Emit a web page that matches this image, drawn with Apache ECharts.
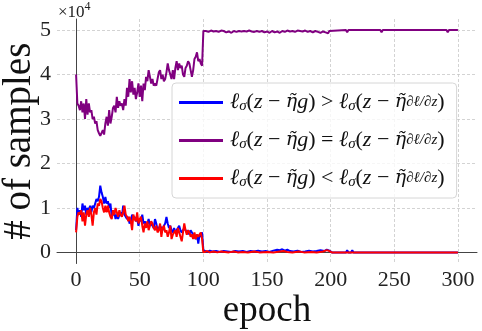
<!DOCTYPE html>
<html>
<head>
<meta charset="utf-8">
<script src="https://cdn.jsdelivr.net/npm/echarts@6/dist/echarts.min.js"></script>
<style>
  html, body { margin: 0; padding: 0; background: #fff; }
  #chart { width: 482px; height: 331px; }
</style>
</head>
<body>
<div id="chart"></div>
<script>
// epochs 0..100, one value per epoch
var blueEarly = [
  5000,10000,8500,9500,8000,11000,9500,10500,8500,10000,
  9500,10500,9000,10500,10000,11000,12000,11500,12500,15000,
  13500,12500,11000,12500,11000,11500,10000,11000,8000,8500,
  9000,7500,8500,7500,8500,9000,8000,10500,8500,8000,
  7500,8000,6500,7000,8500,7500,8000,7000,7500,6000,
  7500,7000,8500,6500,7000,6000,6500,7500,6000,6500,
  6000,5500,7500,6500,5000,5500,6000,5500,5000,6000,
  6500,8000,6500,5500,6000,5000,4500,5500,4500,5000,
  5500,6000,5000,4500,5000,5500,5000,4500,5000,4000,
  5000,4500,4000,3500,3000,4000,2000,4000,3500,4500,
  500
];
var purpleEarly = [
  40000,33500,33000,32000,34000,31500,33500,30000,34500,31000,
  33500,31500,32000,30000,30500,29000,29500,27500,26800,26200,
  26000,27500,26500,29000,30500,28500,32000,29000,30500,32500,
  33000,31500,35000,32500,34000,33000,33500,32000,34500,33000,
  37000,35000,39000,36000,38500,35500,37000,34500,36000,38000,
  35000,37500,34000,38000,36500,39500,38500,41000,39500,38000,
  39000,37500,38000,37500,39000,40500,41000,39000,40000,38500,
  39000,40500,42500,41000,40000,39000,41000,39000,41500,43000,
  41000,42500,41500,42000,40000,39500,41500,42000,43000,42500,
  41000,39500,41000,43500,44000,45000,43000,43500,42500,42000,
  49800
];
var redEarly = [
  4500,8000,9000,8500,9500,7000,9000,6000,8500,9500,
  8000,10000,8500,6000,9000,10000,8500,11000,10500,12000,
  11500,10000,9000,10500,9000,10500,9000,8000,7500,9500,
  8500,10000,9000,8000,9500,8500,8000,9000,10500,8500,
  8000,7000,8000,7000,5000,8500,7500,7000,9000,6500,
  7500,8000,6000,4500,6500,5500,7000,5000,6000,7000,
  6500,5500,5000,6000,4500,5000,6500,3500,5500,6000,
  4500,5000,3500,4500,6000,3000,4000,4500,5000,3500,
  5500,4500,3500,2500,4500,6500,5000,4000,5000,4500,
  3500,4000,3000,4500,3000,4000,3500,4000,4500,3000,
  0
];

// after epoch 100: [epoch, value]
var blueLate = [[101,300],[103,100],[105,400],[107,200],[110,300],[113,100],[116,300],[119,200],[122,100],[125,300],[128,200],[131,300],[134,100],[137,300],[140,200],[143,400],[146,200],[149,300],[152,100],[155,400],[158,600],[160,500],[162,700],[164,400],[166,600],[168,300],[171,200],[174,400],[177,100],[180,200],[183,400],[186,200],[189,300],[192,500],[195,300],[197,600],[199,400],[201,0],[212,0],[213,500],[214,0],[216,0],[217,500],[218,0],[300,0]];
var purpleLate = [[101,49400],[102,49800],[104,49600],[106,49900],[108,49700],[110,49800],[112,49600],[114,49900],[116,49800],[118,49500],[120,49700],[122,49400],[124,49800],[126,49600],[128,49800],[130,49700],[132,49800],[134,49700],[136,49900],[138,49700],[140,49600],[142,49800],[144,49600],[146,49800],[148,49500],[150,49700],[152,49400],[154,49800],[156,49500],[158,49700],[160,49400],[162,49800],[164,49600],[166,49900],[168,49700],[170,49800],[172,49600],[174,49900],[176,49800],[178,49700],[180,49900],[182,49600],[184,49800],[186,49500],[188,49800],[190,49600],[192,49400],[194,49700],[196,49500],[198,49300],[199,49800],[200,50000],[212,50000],[213,49500],[214,50000],[216,50000],[217,49600],[218,50000],[239,50000],[240,49500],[241,50000],[291,50000],[292,49500],[293,50000],[300,50000]];
var redLate = [[101,100],[103,300],[105,0],[108,200],[111,0],[114,200],[117,100],[120,0],[124,200],[127,0],[131,100],[135,0],[140,200],[144,0],[150,100],[155,0],[160,200],[163,300],[166,100],[170,0],[175,200],[179,0],[185,100],[189,0],[194,200],[197,500],[199,300],[201,0],[239,0],[240,300],[241,0],[291,0],[292,300],[293,0],[300,0]];

var xTicks = [0, 50, 100, 150, 200, 250, 300];
var yTicks = [0, 10000, 20000, 30000, 40000, 50000];
var names = ['gt', 'eq', 'lt'];
var relSigns = ['>', '=', '<'];
var colors = ['#0000ff', '#800080', '#ff0000'];

function toPairs(early, late) {
  return early.map(function (v, i) { return [i, v]; }).concat(late);
}

// legend label: ℓσ(z − η̃g) ? ℓσ(z − η̃ ∂ℓ/∂z)
function mathLabel(sign) {
  return '{m|ℓ}{s|σ}{r|(}{m|z}{r| − }{e|η̃}{m|g}{r|)\u2005' + sign + '\u2005}{m|ℓ}{s|σ}{r|(}{m|z}{r| − }{e|η̃}{f|∂ℓ/∂z}{r|)}';
}

var chart = echarts.init(document.getElementById('chart'));
var serif = 'Liberation Serif';

var option = {
  animation: false,
  grid: { left: 57, right: 5, top: 19, bottom: 67.5, outerBoundsMode: 'none' },
  graphic: [{
    type: 'text',
    left: 58, top: 1,
    style: {
      text: '{a|×10}{b|4}',
      rich: {
        a: { fontFamily: serif, fontSize: 17, fill: '#222', verticalAlign: 'bottom', lineHeight: 20 },
        b: { fontFamily: serif, fontSize: 12, fill: '#222', verticalAlign: 'top', lineHeight: 20, padding: [0, 0, 7, 0] }
      }
    }
  }],
  legend: {
    orient: 'vertical',
    left: 172, top: 83,
    padding: [8, 12, 8, 7],
    icon: 'rect',
    itemWidth: 44, itemHeight: 3, itemGap: 15,
    backgroundColor: 'rgba(255,255,255,0.8)',
    borderColor: '#d6d6d6', borderWidth: 1, borderRadius: 4,
    selectedMode: false,
    data: names,
    formatter: function (name) { return mathLabel(relSigns[names.indexOf(name)]); },
    textStyle: {
      color: '#111',
      padding: [0, 0, 0, 2],
      rich: {
        m: { fontFamily: serif, fontStyle: 'italic', fontSize: 22, lineHeight: 28 },
        e: { fontFamily: 'DejaVu Serif', fontStyle: 'italic', fontSize: 19, lineHeight: 28 },
        r: { fontFamily: serif, fontSize: 22, lineHeight: 28 },
        s: { fontFamily: serif, fontStyle: 'italic', fontSize: 15, lineHeight: 28, padding: [8, 0, 0, 0] },
        f: { fontFamily: serif, fontStyle: 'italic', fontSize: 15, lineHeight: 28 }
      }
    }
  },
  xAxis: {
    type: 'value',
    min: -15, max: 315,
    name: 'epoch',
    nameLocation: 'middle',
    nameGap: 29,
    nameMoveOverlap: false,
    nameTextStyle: { fontFamily: serif, fontSize: 37, color: '#111', verticalAlign: 'top' },
    axisLine: { lineStyle: { color: '#444', width: 1 } },
    axisTick: { show: false, customValues: xTicks },
    axisLabel: { customValues: xTicks, margin: 6, fontFamily: serif, fontSize: 22, color: '#222' },
    splitLine: { show: true, lineStyle: { color: '#c8c8c8', width: 0.8, type: [3, 2] } }
  },
  yAxis: {
    type: 'value',
    min: -2500, max: 52500,
    name: '# of samples',
    nameLocation: 'middle',
    nameGap: 18,
    nameMoveOverlap: false,
    nameTextStyle: { fontFamily: serif, fontSize: 39, color: '#111' },
    axisLine: { show: true, lineStyle: { color: '#444', width: 1 } },
    axisTick: { show: false, customValues: yTicks },
    axisLabel: {
      customValues: yTicks, margin: 6, fontFamily: serif, fontSize: 22, color: '#222',
      formatter: function (v) { return String(v / 10000); }
    },
    splitLine: { show: true, lineStyle: { color: '#c8c8c8', width: 0.8, type: [3, 2] } }
  },
  series: [
    { name: 'gt', type: 'line', data: toPairs(blueEarly, blueLate) },
    { name: 'eq', type: 'line', data: toPairs(purpleEarly, purpleLate) },
    { name: 'lt', type: 'line', data: toPairs(redEarly, redLate) }
  ].map(function (s, i) {
    s.symbol = 'none';
    s.color = colors[i];
    s.lineStyle = { width: 2, color: colors[i] };
    return s;
  })
};

chart.setOption(option);
</script>
</body>
</html>
